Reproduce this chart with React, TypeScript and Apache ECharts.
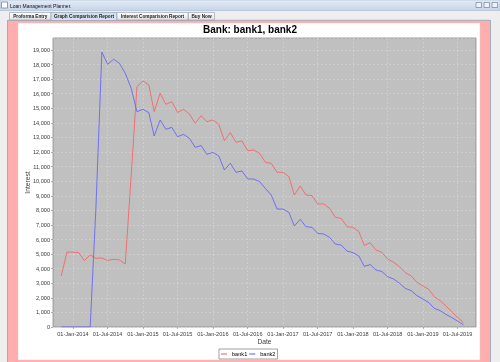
import React, { useEffect, useRef } from "react";
import * as echarts from "echarts";

// ---------- data ----------
const windowTitle = "Loan Management Planner.";
const tabLabels = ["Proforma Entry", "Graph Comparision Report", "Interest Comparision Report", "Buy Now"];
const selectedTab = 1;
const chartTitle = "Bank: bank1, bank2";
const seriesNames = ["bank1", "bank2"];
const xAxisName = "Date";
const yAxisName = "Interest";

const months = [
  "2013-11", "2013-12",
  "2014-01", "2014-02", "2014-03", "2014-04", "2014-05", "2014-06", "2014-07", "2014-08", "2014-09", "2014-10", "2014-11", "2014-12",
  "2015-01", "2015-02", "2015-03", "2015-04", "2015-05", "2015-06", "2015-07", "2015-08", "2015-09", "2015-10", "2015-11", "2015-12",
  "2016-01", "2016-02", "2016-03", "2016-04", "2016-05", "2016-06", "2016-07", "2016-08", "2016-09", "2016-10", "2016-11", "2016-12",
  "2017-01", "2017-02", "2017-03", "2017-04", "2017-05", "2017-06", "2017-07", "2017-08", "2017-09", "2017-10", "2017-11", "2017-12",
  "2018-01", "2018-02", "2018-03", "2018-04", "2018-05", "2018-06", "2018-07", "2018-08", "2018-09", "2018-10", "2018-11", "2018-12",
  "2019-01", "2019-02", "2019-03", "2019-04", "2019-05", "2019-06", "2019-07", "2019-08",
];

const bank1 = [
  3500, 5140,
  5140, 5100, 4550, 4940, 4710, 4730, 4570, 4640, 4600, 4320, 10400, 16480,
  16870, 16600, 14770, 16030, 15270, 15450, 14720, 14930, 14610, 13970, 14490, 14080,
  14200, 13900, 12780, 13330, 12670, 12760, 12090, 12140, 11910, 11300, 11220, 10610,
  10610, 10310, 9050, 9670, 9050, 9010, 8440, 8440, 8140, 7520, 7450, 6880,
  6840, 6540, 5590, 5780, 5280, 5120, 4660, 4440, 4140, 3730, 3500, 3060,
  2810, 2580, 2080, 1810, 1440, 1050, 660, 300,
];

const bank2 = [
  0, 0,
  0, 0, 0, 0, 8200, 18850, 18020, 18360, 18080, 17400, 16370, 14770,
  14930, 14700, 13100, 14200, 13560, 13690, 13050, 13210, 12940, 12320, 12440, 11840,
  11980, 11730, 10770, 11230, 10610, 10700, 10150, 10150, 9970, 9500, 9050, 8090,
  8090, 7860, 6930, 7380, 6880, 6840, 6420, 6380, 6150, 5690, 5620, 5210,
  5100, 4870, 4160, 4280, 3910, 3800, 3450, 3290, 3000, 2650, 2490, 2150,
  1920, 1670, 1280, 1120, 870, 640, 410, 140,
];

const xTickDates = [
  "2014-01-01", "2014-07-01", "2015-01-01", "2015-07-01", "2016-01-01", "2016-07-01",
  "2017-01-01", "2017-07-01", "2018-01-01", "2018-07-01", "2019-01-01", "2019-07-01",
];
const xRange = ["2013-09-19", "2019-10-05"];
const yRange = [0, 19820];
const yStep = 1000;

const monthNames = ["Jan", "Feb", "Mar", "Apr", "May", "Jun", "Jul", "Aug", "Sep", "Oct", "Nov", "Dec"];

// ---------- helpers ----------
const FONT = "'Liberation Sans', Arial, sans-serif";
const monthTs = (m: string) => Date.parse(m + "-01");
const fmtDate = (v: number) => {
  const d = new Date(v);
  const dd = String(d.getUTCDate()).padStart(2, "0");
  return dd + "-" + monthNames[d.getUTCMonth()] + "-" + d.getUTCFullYear();
};
const fmtNum = (v: number) => Math.round(v).toLocaleString("en-US");

function buildChrome(): any[] {
  const els: any[] = [];
  els.push({ type: "rect", z: -10, shape: { x: 0, y: 0, width: 500, height: 362 }, style: { fill: "#eeeeee" } });
  els.push({
    type: "rect", z: -9, shape: { x: 0, y: 0, width: 500, height: 10.5 },
    style: {
      fill: { type: "linear", x: 0, y: 0, x2: 0, y2: 1, colorStops: [{ offset: 0, color: "#e4ecf6" }, { offset: 1, color: "#c6d5e8" }] },
      stroke: "#a7b9d2", lineWidth: 0.6,
    },
  });
  els.push({ type: "rect", z: -8, shape: { x: 1.5, y: 2, width: 6, height: 6 }, style: { fill: "#ffffff", stroke: "#6c7a8c", lineWidth: 0.7 } });
  els.push({ type: "text", z: -8, x: 10, y: 5.5, style: { text: windowTitle, fontSize: 5, fontFamily: FONT, fill: "#111111", verticalAlign: "middle" } });
  [476, 484, 492].forEach((bx) => {
    els.push({ type: "rect", z: -8, shape: { x: bx, y: 2.5, width: 5.5, height: 5 }, style: { fill: "#eef3f9", stroke: "#5d6f88", lineWidth: 0.6 } });
  });
  const tabX = [9.5, 51, 117, 188.5];
  const tabW = [41.5, 66, 71, 26];
  tabLabels.forEach((t, i) => {
    const sel = i === selectedTab;
    els.push({
      type: "rect", z: -8, shape: { x: tabX[i], y: 12.5, width: tabW[i], height: sel ? 8 : 7.5 },
      style: {
        fill: sel ? "#d5e1ee" : { type: "linear", x: 0, y: 0, x2: 0, y2: 1, colorStops: [{ offset: 0, color: "#ffffff" }, { offset: 1, color: "#e2e2e2" }] },
        stroke: "#8c9bae", lineWidth: 0.6,
      },
    });
    els.push({
      type: "text", z: -7, x: tabX[i] + tabW[i] / 2, y: 16.4,
      style: { text: t, fontSize: 4.7, fontWeight: "bold", fontFamily: FONT, fill: "#222222", align: "center", verticalAlign: "middle" },
    });
  });
  els.push({ type: "rect", z: -9, shape: { x: 7.5, y: 20.3, width: 483, height: 350 }, style: { fill: "#ffadad", stroke: "#8ea3be", lineWidth: 0.8 } });
  els.push({ type: "rect", z: -8, shape: { x: 18, y: 23, width: 462, height: 337 }, style: { fill: "#ffffff", stroke: "#e6c8c8", lineWidth: 0.5 } });
  return els;
}

export default function App() {
  const ref = useRef<HTMLDivElement>(null);

  useEffect(() => {
    if (!ref.current) return;
    const chart = echarts.init(ref.current, null, { renderer: "svg" });
    const xs = months.map(monthTs);
    const tickLabelStyle = { fontSize: 5.6, color: "#404040", fontFamily: FONT };
    const gridLine = { color: "rgba(255,255,255,0.38)", width: 0.6, type: [2, 2] };

    chart.setOption({
      animation: false,
      textStyle: { fontFamily: FONT },
      graphic: { elements: buildChrome() },
      title: {
        text: chartTitle,
        left: "center",
        top: 24,
        padding: 0,
        textStyle: { fontSize: 10, fontWeight: "bold", color: "#000000", fontFamily: FONT, lineHeight: 11 },
      },
      legend: {
        data: seriesNames,
        left: 219,
        top: 349,
        padding: [1.5, 2],
        itemGap: 2,
        itemWidth: 6,
        itemHeight: 1,
        icon: "rect",
        selectedMode: false,
        borderColor: "#7a7a7a",
        borderWidth: 0.7,
        backgroundColor: "#ffffff",
        textStyle: { fontSize: 5.6, color: "#000000", fontFamily: FONT, lineHeight: 7 },
      },
      grid: {
        left: 53,
        top: 38,
        width: 423,
        height: 289,
        show: true,
        backgroundColor: "#c0c0c0",
        borderColor: "#8a8a8a",
        borderWidth: 0.8,
        containLabel: false,
        outerBoundsMode: "none",
      },
      xAxis: {
        type: "value",
        min: Date.parse(xRange[0]),
        max: Date.parse(xRange[1]),
        name: xAxisName,
        nameLocation: "middle",
        nameGap: 10.5,
        nameMoveOverlap: false,
        nameTextStyle: { fontSize: 6.7, color: "#404040", fontFamily: FONT },
        axisLine: { show: false, onZero: false },
        axisTick: { show: true, length: 2, lineStyle: { color: "#808080", width: 0.6 }, customValues: xTickDates.map((d) => Date.parse(d)) },
        axisLabel: { ...tickLabelStyle, margin: 4, formatter: (v: number) => fmtDate(v), customValues: xTickDates.map((d) => Date.parse(d)) },
        splitLine: { show: true, lineStyle: gridLine },
      },
      yAxis: {
        type: "value",
        min: yRange[0],
        max: yRange[1],
        interval: yStep,
        name: yAxisName,
        nameLocation: "middle",
        nameGap: 22,
        nameMoveOverlap: false,
        nameTextStyle: { fontSize: 6.7, color: "#404040", fontFamily: FONT },
        axisLine: { show: false, onZero: false },
        axisTick: { show: true, length: 2, lineStyle: { color: "#808080", width: 0.6 } },
        axisLabel: { ...tickLabelStyle, margin: 3, showMaxLabel: false, formatter: (v: number) => fmtNum(v) },
        splitLine: { show: true, lineStyle: gridLine },
      },
      series: [
        {
          name: seriesNames[0],
          type: "line",
          symbol: "none",
          color: "#ff5555",
          lineStyle: { width: 1, color: "#ff5555", opacity: 0.75 },
          data: xs.map((x, i) => [x, bank1[i]]),
        },
        {
          name: seriesNames[1],
          type: "line",
          symbol: "none",
          color: "#5555ff",
          lineStyle: { width: 1, color: "#5555ff", opacity: 0.75 },
          data: xs.map((x, i) => [x, bank2[i]]),
        },
      ],
    });
    return () => chart.dispose();
  }, []);

  return <div ref={ref} style={{ position: "fixed", left: 0, top: 0, width: 500, height: 362 }} />;
}
